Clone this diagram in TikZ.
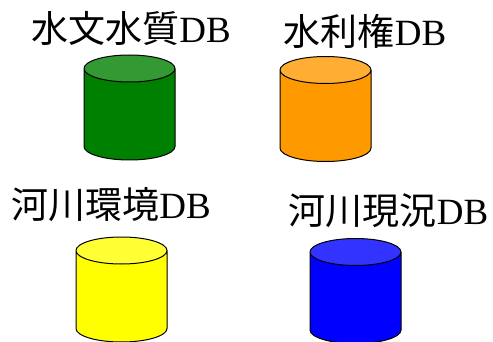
\documentclass[tikz,border=0pt]{standalone}
\usepackage{fontspec}
\setmainfont{Liberation Serif}
\newfontfamily\cjk{Noto Sans CJK JP}
\usetikzlibrary{shapes.geometric}
\tikzset{dbcyl/.style={cylinder, shape border rotate=90, draw=black, line width=1pt,
        aspect=1.35, minimum width=91pt, minimum height=105pt, inner sep=10pt,
        anchor=shape center, cylinder uses custom fill},
    dblabel/.style={font=\fontsize{37}{37}\selectfont, inner sep=0pt}}
\begin{document}
\begin{tikzpicture}[x=1pt,y=-1pt]
    \useasboundingbox (0,0) rectangle (493,342);
    % Definition of colours
    \definecolor{waterbody}{RGB}{0,128,0}
    \definecolor{waterend}{RGB}{51,153,51}
    \definecolor{rightbody}{RGB}{255,153,0}
    \definecolor{rightend}{RGB}{255,173,51}
    \definecolor{envbody}{RGB}{255,255,0}
    \definecolor{envend}{RGB}{255,255,51}
    \definecolor{nowbody}{RGB}{0,0,255}
    \definecolor{nowend}{RGB}{51,51,255}
    %
    \node[dbcyl, cylinder body fill=waterbody, cylinder end fill=waterend] (waterDB) at (129.5,107.5) {};
    \node[dbcyl, cylinder body fill=rightbody, cylinder end fill=rightend] (rightDB) at (325.5,109) {};
    \node[dbcyl, cylinder body fill=envbody, cylinder end fill=envend] (envDB) at (121.5,289.5) {};
    \node[dbcyl, cylinder body fill=nowbody, cylinder end fill=nowend] (nowDB) at (355.5,291) {};
    %
    \node[dblabel] (waterLabel) at (131,28) {\cjk 水文水質\rmfamily DB};
    \node[dblabel] (rightLabel) at (365,31) {\cjk 水利権\rmfamily DB};
    \node[dblabel] (envLabel) at (111,205) {\cjk 河川環境\rmfamily DB};
    \node[dblabel] (nowLabel) at (388.5,211) {\cjk 河川現況\rmfamily DB};
\end{tikzpicture}
\end{document}
